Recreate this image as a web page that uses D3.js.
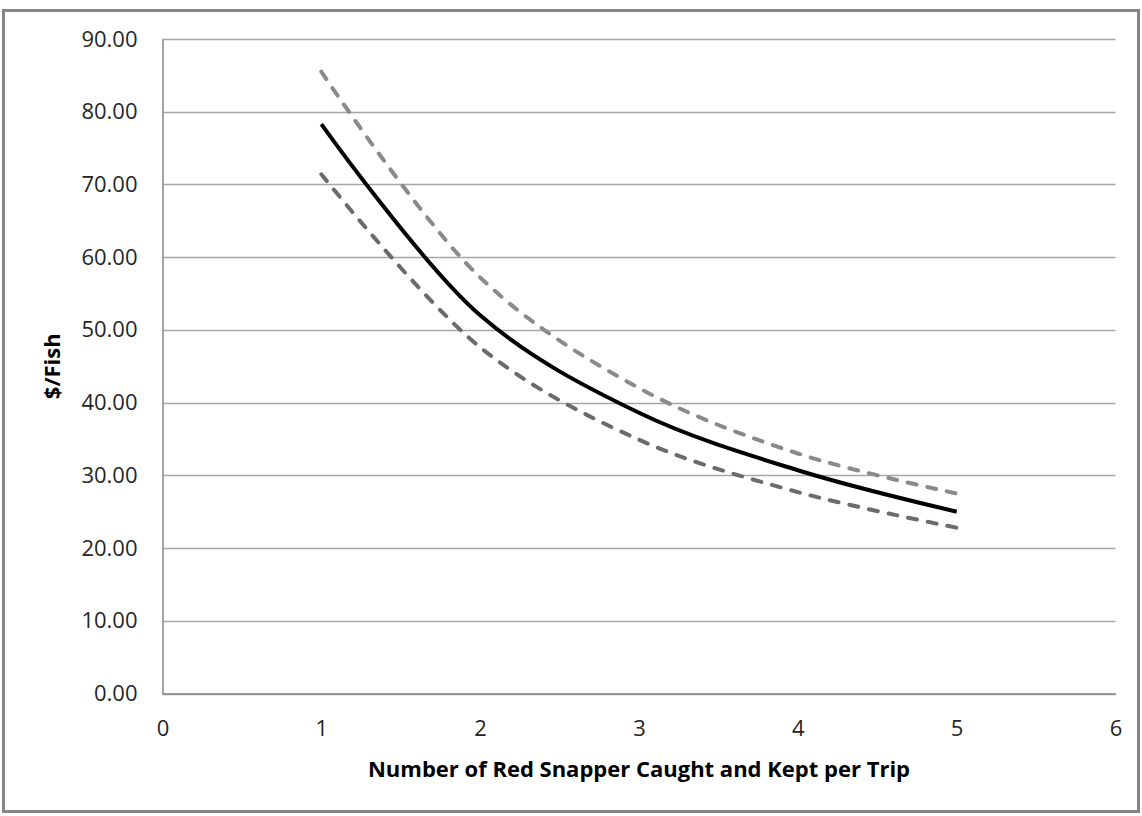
<!DOCTYPE html>
<html>
<head>
<meta charset="utf-8">
<script src="https://cdn.jsdelivr.net/npm/d3@7"></script>
<style>
  body { margin: 0; background: #ffffff; }
</style>
</head>
<body>
<div id="wrapper"></div>
<script>
const fishPerTrip = [1, 2, 3, 4, 5]
const priceMid = [78.3, 52.0, 38.6, 30.7, 25.0]
const priceUpper = [85.5, 57.2, 42.0, 33.0, 27.5]
const priceLower = [71.4, 47.6, 34.9, 27.7, 22.8]
const yTicks = [0, 10, 20, 30, 40, 50, 60, 70, 80, 90]
const xTicks = [0, 1, 2, 3, 4, 5, 6]

const drawChart = () => {
    const dimensions = {
        width: 1142,
        height: 816,
        margin: {
            top: 39,
            right: 26.5,
            bottom: 122.5,
            left: 162.5,
        }
    }
    dimensions.boundedWidth = dimensions.width - dimensions.margin.left - dimensions.margin.right
    dimensions.boundedHeight = dimensions.height - dimensions.margin.top - dimensions.margin.bottom

    const font = '"Open Sans", "Liberation Sans", sans-serif'

    const wrapper = d3.select('#wrapper')
        .append('svg')
        .attr('width', dimensions.width)
        .attr('height', dimensions.height)

    // outer chart frame
    wrapper.append('rect')
        .attr('x', 3.5)
        .attr('y', 10.5)
        .attr('width', dimensions.width - 7)
        .attr('height', dimensions.height - 15)
        .attr('fill', 'white')
        .attr('stroke', '#868686')
        .attr('stroke-width', 3)

    const bounds = wrapper.append('g')
        .attr('transform', `translate(${dimensions.margin.left}, ${dimensions.margin.top})`)

    const scaleX = d3.scaleLinear()
        .domain([0, 6])
        .range([0, dimensions.boundedWidth])

    const scaleY = d3.scaleLinear()
        .domain([0, 90])
        .range([dimensions.boundedHeight, 0])

    // gridlines
    bounds.append('g')
        .selectAll('line')
        .data(yTicks)
        .join('line')
        .attr('x1', 0)
        .attr('x2', dimensions.boundedWidth)
        .attr('y1', d => Math.round(scaleY(d)) + 0.5)
        .attr('y2', d => Math.round(scaleY(d)) + 0.5)
        .attr('stroke', '#a6a6a6')
        .attr('stroke-width', 1.5)

    // axes
    const yAxisGenerator = d3.axisLeft(scaleY)
        .tickValues(yTicks)
        .tickFormat(d3.format('.2f'))
        .tickSize(0)
        .tickPadding(25)
    const yAxis = bounds.append('g').call(yAxisGenerator)

    const xAxisGenerator = d3.axisBottom(scaleX)
        .tickValues(xTicks)
        .tickFormat(d3.format('d'))
        .tickSize(0)
        .tickPadding(27)
    const xAxis = bounds.append('g')
        .call(xAxisGenerator)
        .attr('transform', `translate(0, ${dimensions.boundedHeight})`)

    ;[xAxis, yAxis].forEach(axis => {
        axis.select('.domain').attr('stroke', '#868686').attr('stroke-width', 1.5)
        axis.selectAll('text')
            .attr('fill', '#262626')
            .style('font-family', font)
            .style('font-size', '22px')
    })

    // series
    const lineGenerator = (values) => d3.line()
        .x((d, i) => scaleX(fishPerTrip[i]))
        .y(d => scaleY(d))
        .curve(d3.curveCatmullRom.alpha(0.5))(values)

    bounds.append('path')
        .attr('d', lineGenerator(priceUpper))
        .attr('fill', 'none')
        .attr('stroke', '#8a8a8a')
        .attr('stroke-width', 4)
        .attr('stroke-linecap', 'round')
        .attr('stroke-dasharray', '9,11')

    bounds.append('path')
        .attr('d', lineGenerator(priceLower))
        .attr('fill', 'none')
        .attr('stroke', '#6b6b6b')
        .attr('stroke-width', 4)
        .attr('stroke-linecap', 'round')
        .attr('stroke-dasharray', '9,11')

    bounds.append('path')
        .attr('d', lineGenerator(priceMid))
        .attr('fill', 'none')
        .attr('stroke', '#000000')
        .attr('stroke-width', 4)

    // axis titles
    wrapper.append('text')
        .text('Number of Red Snapper Caught and Kept per Trip')
        .attr('x', dimensions.margin.left + dimensions.boundedWidth / 2)
        .attr('y', 777)
        .attr('fill', '#000')
        .style('font-family', font)
        .style('font-size', '22px')
        .style('font-weight', 'bold')
        .style('text-anchor', 'middle')

    wrapper.append('text')
        .text('$/Fish')
        .attr('transform', `translate(60, ${dimensions.margin.top + dimensions.boundedHeight / 2}) rotate(-90)`)
        .attr('fill', '#000')
        .style('font-family', font)
        .style('font-size', '22px')
        .style('font-weight', 'bold')
        .style('text-anchor', 'middle')
}
drawChart()
</script>
</body>
</html>
